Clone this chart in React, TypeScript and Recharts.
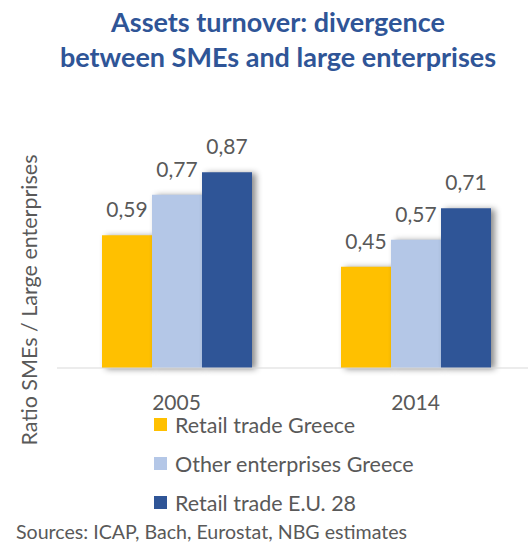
import { BarChart, Bar, XAxis, YAxis, LabelList, Legend, Rectangle } from 'recharts';

const years = ['2005', '2014'];
const retailGreece = [0.59, 0.45];
const otherGreece = [0.77, 0.57];
const retailEU = [0.87, 0.71];

const series = [
  { key: 'retailGreece', name: 'Retail trade Greece', color: '#FFC000' },
  { key: 'otherGreece', name: 'Other enterprises Greece', color: '#B4C7E7' },
  { key: 'retailEU', name: 'Retail trade E.U. 28', color: '#2F5597' },
];

const data = years.map((year, i) => ({
  year,
  retailGreece: retailGreece[i],
  otherGreece: otherGreece[i],
  retailEU: retailEU[i],
}));

const FONT = 'Lato, "Open Sans", sans-serif';
const GREY = '#595959';

const fmt = (v: number) => v.toFixed(2).replace('.', ',');

const ShadowBar = (props: any) => (
  <Rectangle {...props} style={{ filter: 'drop-shadow(4px 1px 3px rgba(0,0,0,0.45))' }} />
);

// title, axis title and source note drawn as svg text so baselines are exact
const Texts = () => (
  <g fontFamily={FONT}>
    <text x={278} y={32} textAnchor="middle" fill="#2F5597" fontSize={27} fontWeight={700}>
      Assets turnover: divergence
    </text>
    <text x={278} y={67} textAnchor="middle" fill="#2F5597" fontSize={27} fontWeight={700}>
      between SMEs and large enterprises
    </text>
    <text
      x={29}
      y={300}
      transform="rotate(-90, 29, 300)"
      textAnchor="middle"
      dominantBaseline="central"
      fill={GREY}
      fontSize={21.5}
    >
      Ratio SMEs / Large enterprises
    </text>
    <text x={16} y={539} fill={GREY} fontSize={19.6}>
      Sources: ICAP, Bach, Eurostat, NBG estimates
    </text>
  </g>
);

// legend rows follow the series order, not the library's alphabetical sort
const LegendBox = () => (
  <div>
    {series.map((s) => (
      <div
        key={s.key}
        style={{ display: 'flex', alignItems: 'center', height: 39, fontFamily: FONT, fontSize: 21.5, color: GREY }}
      >
        <span style={{ width: 13, height: 13, background: s.color, marginRight: 8, display: 'inline-block' }} />
        {s.name}
      </div>
    ))}
  </div>
);

export default function App() {
  return (
    <div style={{ position: 'fixed', top: 0, left: 0, width: 528, height: 544, overflow: 'hidden', background: '#fff' }}>
      <BarChart
        width={535}
        height={544}
        data={data}
        margin={{ top: 143, right: 0, bottom: 146, left: 0 }}
        barGap={0}
        barSize={50}
      >
        <XAxis
          dataKey="year"
          height={30}
          axisLine={{ stroke: '#D9D9D9' }}
          tickLine={false}
          tickSize={0}
          tickMargin={27}
          tick={{ fill: GREY, fontSize: 21, fontFamily: FONT }}
        />
        <YAxis domain={[0, 1]} width={57} tick={false} axisLine={false} tickLine={false} />
        <Legend
          layout="horizontal"
          verticalAlign="middle"
          align="center"
          content={<LegendBox />}
          wrapperStyle={{ position: 'absolute', left: 154, top: 405, width: 320 }}
        />
        {series.map((s) => (
          <Bar key={s.key} dataKey={s.key} name={s.name} fill={s.color} shape={<ShadowBar />} isAnimationActive={false}>
            <LabelList
              dataKey={s.key}
              position="top"
              offset={18}
              formatter={(v: any) => fmt(Number(v))}
              style={{ fill: GREY, fontSize: 21, fontFamily: FONT }}
            />
          </Bar>
        ))}
        <Texts />
      </BarChart>
    </div>
  );
}
